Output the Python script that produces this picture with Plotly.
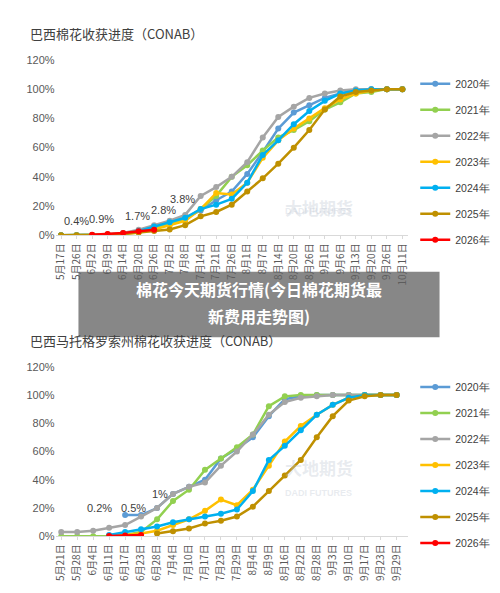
import plotly.graph_objects as go

years = ["2020年", "2021年", "2022年", "2023年", "2024年", "2025年", "2026年"]
colors = ["#5B9BD5", "#92D050", "#A5A5A5", "#FFC000", "#00B0F0", "#BF9000", "#FF0000"]
N = None

top_dates = ["5月17日","5月26日","6月2日","6月9日","6月14日","6月20日","6月26日","7月2日","7月8日","7月14日",
             "7月21日","7月26日","8月1日","8月7日","8月14日","8月20日","8月26日","9月1日","9月6日","9月13日",
             "9月20日","9月26日","10月11日"]
top_2020 = [0,0,0,0.5,1,3,6,9,12,17,24,30,42,57,73,84,89,94,97,99,100,100,100]
top_2021 = [0,0,0.3,0.6,1.5,3,5,8,11,18,27,40,48,58,67,72,78,86,91,97,98,100,100]
top_2022 = [0,0,0.3,0.7,1.7,3.8,7,10,14,27,33,40,50,67,81,88,94,97,99,100,100,100,100]
top_2023 = [0,0,0,0.5,1,2,4,7,10,18,29,28,36,53,65,73,80,87,93,97,99,100,100]
top_2024 = [0,0,0,0.5,1,3,6,9,12,18,21,25,36,55,65,76,85,92,97,99,100,100,100]
top_2025 = [0,0,0,0.4,1,2,3,4,7,13,16,21,30,39,49,60,72,86,95,98,99,100,100]
top_2026 = [N,N,0.4,0.9,1.7,2.8,3.8]
top_labels = ["0.4%","0.9%","1.7%","2.8%","3.8%"]
top_label_x = [1.0,2.6,4.9,6.6,7.8]
top_label_y = [10,11,13,17,25]

bot_dates = ["5月21日","5月28日","6月4日","6月11日","6月17日","6月23日","6月28日","7月4日","7月10日","7月17日",
             "7月23日","7月29日","8月4日","8月9日","8月16日","8月22日","8月28日","9月3日","9月10日","9月17日",
             "9月23日","9月29日"]
bot_2020 = [N,N,N,N,15,15,20,30,35,40,55,62,70,85,97,99,100,100,100,100,100,100]
bot_2021 = [0,0,0,0,1,3,12,25,33,47,55,63,72,92,99,100,100,100,100,100,100,100]
bot_2022 = [3,3,4,6,8,14,20,30,35,38,50,60,72,86,95,98,99,100,100,100,100,100]
bot_2023 = [N,N,N,0,1,2,4,8,12,18,26,22,33,50,67,78,86,93,98,100,100,100]
bot_2024 = [N,N,N,1,3,5,7,10,12,14,16,19,32,54,64,75,86,93,98,100,100,100]
bot_2025 = [N,N,N,N,N,N,2,3.5,5.5,9,11,14,21,32,43,54,70,85,96,99,100,100]
bot_2026 = [N,N,N,0.2,0.5,1]
bot_labels = ["0.2%","0.5%","1%"]
bot_label_x = [2.4,4.5,6.2]
bot_label_y = [20,20,30]

y_ticks = [0, 20, 40, 60, 80, 100, 120]
y_ticktext = ["0%", "20%", "40%", "60%", "80%", "100%", "120%"]

top_series = [top_2020,top_2021,top_2022,top_2023,top_2024,top_2025,top_2026]
bot_series = [bot_2020,bot_2021,bot_2022,bot_2023,bot_2024,bot_2025,bot_2026]

fig = go.Figure()
for i, (name, c) in enumerate(zip(years, colors)):
    fig.add_trace(go.Scatter(x=list(range(len(top_series[i]))), y=top_series[i], name=name, mode="lines+markers",
                             line=dict(color=c, width=2.5), marker=dict(size=6, color=c),
                             xaxis="x", yaxis="y", legend="legend", legendgroup="t"+name))
for i, (name, c) in enumerate(zip(years, colors)):
    fig.add_trace(go.Scatter(x=list(range(len(bot_series[i]))), y=bot_series[i], name=name, mode="lines+markers",
                             line=dict(color=c, width=2.5), marker=dict(size=6, color=c),
                             xaxis="x2", yaxis="y2", legend="legend2", legendgroup="b"+name))

tick_font = dict(family="Noto Sans CJK SC", size=10, color="#595959")
ax_common = dict(tickmode="array", tickangle=-90, showgrid=False, showline=True, linecolor="#D9D9D9",
                 ticks="outside", ticklen=3, tickcolor="#D9D9D9", tickfont=tick_font, zeroline=False)
y_common = dict(range=[0, 120], tickmode="array", tickvals=y_ticks, ticktext=y_ticktext, showgrid=False,
                showline=False, zeroline=False, tickfont=dict(family="Liberation Sans", size=11, color="#595959"))

leg_font = dict(family="Liberation Sans", size=10.5, color="#404040")
fig.update_layout(
    width=500, height=593, margin=dict(l=0, r=0, t=0, b=0), paper_bgcolor="white", plot_bgcolor="white",
    xaxis=dict(domain=[0.09, 0.8], range=[-0.35, 22.35], tickvals=list(range(len(top_dates))), ticktext=top_dates,
               anchor="y", **ax_common),
    yaxis=dict(domain=[0.619, 0.921], anchor="x", **y_common),
    xaxis2=dict(domain=[0.09, 0.8], range=[-0.35, 21.7], tickvals=list(range(len(bot_dates))), ticktext=bot_dates,
                anchor="y2", **ax_common),
    yaxis2=dict(domain=[0.101, 0.393], anchor="x2", **y_common),
    legend=dict(x=0.815, y=0.905, yanchor="top", tracegroupgap=7, font=leg_font, itemwidth=30),
    legend2=dict(x=0.815, y=0.383, yanchor="top", tracegroupgap=7, font=leg_font, itemwidth=30),
    showlegend=True,
)

ann = []
title_font = dict(family="Noto Sans CJK SC", size=13, color="#404040")
ann.append(dict(text="巴西棉花收获进度（CONAB）", x=0.035, y=1-20/593, xref="paper", yref="paper",
                xanchor="left", yanchor="middle", showarrow=False, font=title_font))
ann.append(dict(text="巴西马托格罗索州棉花收获进度（CONAB）", x=0.035, y=1-333/593, xref="paper", yref="paper",
                xanchor="left", yanchor="middle", showarrow=False, font=title_font))
for t, xx, yy in zip(top_labels, top_label_x, top_label_y):
    ann.append(dict(text=t, x=xx, y=yy, xref="x", yref="y", showarrow=False,
                    font=dict(family="Liberation Sans", size=11, color="#404040")))
for t, xx, yy in zip(bot_labels, bot_label_x, bot_label_y):
    ann.append(dict(text=t, x=xx, y=yy, xref="x2", yref="y2", showarrow=False,
                    font=dict(family="Liberation Sans", size=11, color="#404040")))
wm = dict(family="Noto Sans CJK SC", size=17, color="rgba(190,198,210,0.35)")
wm2 = dict(family="Liberation Sans", size=9, color="rgba(190,198,210,0.35)")
for yc in [183, 478]:
    ann.append(dict(text="<b>大地期货</b>", x=0.62, y=1-yc/593, xref="paper", yref="paper", showarrow=False, font=wm))
    ann.append(dict(text="<b>DADI FUTURES</b>", x=0.62, y=1-(yc+18)/593, xref="paper", yref="paper", showarrow=False, font=wm2))
ann.append(dict(text="<b>棉花今天期货行情(今日棉花期货最</b>", x=0.5, y=1-281/593, xref="paper", yref="paper",
                showarrow=False, font=dict(family="Noto Sans CJK SC", size=16, color="white")))
ann.append(dict(text="<b>新费用走势图)</b>", x=0.5, y=1-308/593, xref="paper", yref="paper",
                showarrow=False, font=dict(family="Noto Sans CJK SC", size=16, color="white")))
fig.update_layout(annotations=ann)
fig.add_shape(type="rect", xref="paper", yref="paper", x0=0.136, x1=0.864, y0=1-330/593, y1=1-263/593,
              fillcolor="rgba(95,95,95,0.75)", line=dict(width=0), layer="above")
fig.write_html("out.html")
